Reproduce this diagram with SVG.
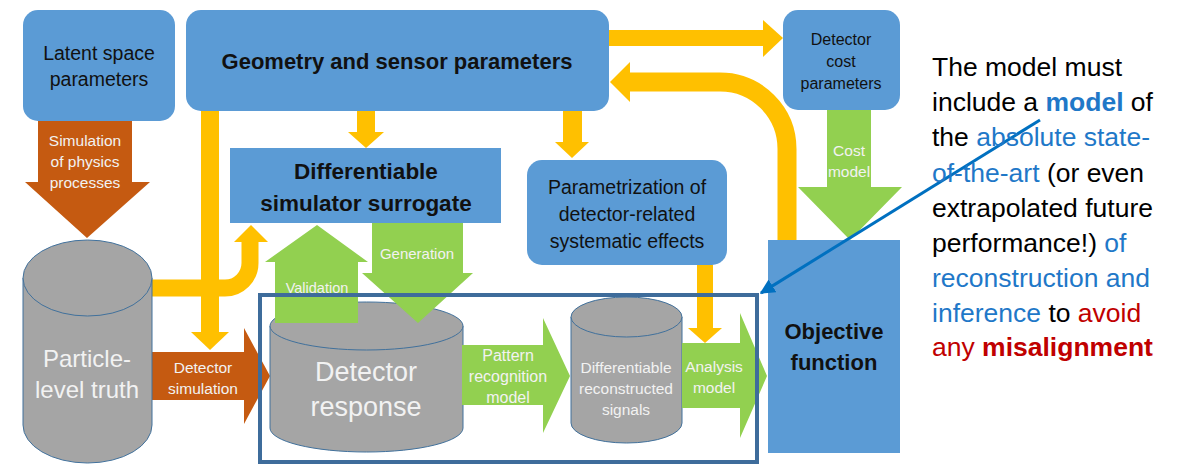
<svg xmlns="http://www.w3.org/2000/svg" width="1189" height="465" viewBox="0 0 1189 465">
<style>
.box{fill:#5B9BD5}
.cyl{fill:#A5A5A5;stroke:#41719C;stroke-width:1}
.y{fill:#FFC000}
.ys{fill:none;stroke:#FFC000}
.g{fill:#92D050}
.o{fill:#C55A11}
text{font-family:"Liberation Sans",Arial,sans-serif;text-anchor:middle}
.dk{fill:#111111}
.wt{fill:#F2F2F2}
.bd{font-weight:bold}
.rt{text-anchor:start;font-size:26.5px;fill:#000}
.bl{fill:#1F78C8}
.rd{fill:#C00000}
</style>
<defs>
<marker id="ah" viewBox="0 0 10 10" refX="9" refY="5" markerWidth="5" markerHeight="5" orient="auto" markerUnits="strokeWidth">
<path d="M0,0 L10,5 L0,10 z" fill="#0070C0"/>
</marker>
</defs>

<g id="connectors">
<path class="ys" stroke-width="17" d="M150,288 H225 A25,25 0 0 0 250,263 V241"/>
<polygon class="y" points="234,242 268,242 251,225"/>
<rect class="y" x="201" y="111" width="18" height="222"/>
<polygon class="y" points="191,332 229,332 210,350"/>
<rect class="y" x="357" y="111" width="18" height="22"/>
<polygon class="y" points="348,132 384,132 366,148"/>
<rect class="y" x="563" y="111" width="19" height="32"/>
<polygon class="y" points="555,142 589,142 572,158"/>
<rect class="y" x="697" y="265" width="16" height="64"/>
<polygon class="y" points="688,328 722,328 705,343"/>
<rect class="y" x="609" y="30" width="155" height="16"/>
<polygon class="y" points="763,20 763,57 783,38"/>
<path class="ys" stroke-width="19" d="M787,241 V149 A67,67 0 0 0 720,82 H629"/>
<polygon class="y" points="630,62 630,102 610,82"/>

<g id="e-physics">
<polygon class="o" points="38,121 132,121 132,182 150,182 87,238 25,182 38,182"/>
<text class="wt" font-size="15.5" x="85" y="146">Simulation</text>
<text class="wt" font-size="15.5" x="85" y="167">of physics</text>
<text class="wt" font-size="15.5" x="85" y="188">processes</text>
</g>
<g id="e-detsim">
<polygon class="o" points="152,352 244,352 244,328 270,376 244,424 244,400 152,400"/>
<text class="wt" font-size="15.5" x="203" y="373">Detector</text>
<text class="wt" font-size="15.5" x="203" y="394">simulation</text>
</g>
</g>

<g id="n-latent">
<rect class="box" x="23" y="10" width="152" height="111" rx="15"/>
<text class="dk" font-size="19.5" x="99" y="60">Latent space</text>
<text class="dk" font-size="19.5" x="99" y="86">parameters</text>
</g>

<g id="n-geometry">
<rect class="box" x="186" y="10" width="423" height="101" rx="15"/>
<text class="dk bd" font-size="22" x="397" y="69">Geometry and sensor parameters</text>
</g>

<g id="n-cost">
<rect class="box" x="783" y="10" width="117" height="100" rx="15"/>
<text class="dk" font-size="16" x="841" y="45">Detector</text>
<text class="dk" font-size="16" x="841" y="67">cost</text>
<text class="dk" font-size="16" x="841" y="89">parameters</text>
</g>

<g id="n-surrogate">
<rect class="box" x="230" y="148" width="271" height="75"/>
<text class="dk bd" font-size="22.5" x="366" y="179">Differentiable</text>
<text class="dk bd" font-size="22.5" x="366" y="211">simulator surrogate</text>
</g>

<g id="n-param">
<rect class="box" x="527" y="160" width="200" height="105" rx="15"/>
<text class="dk" font-size="19.5" x="627" y="194">Parametrization of</text>
<text class="dk" font-size="19.5" x="627" y="221">detector-related</text>
<text class="dk" font-size="19.5" x="627" y="248">systematic effects</text>
</g>

<g id="n-truth">
<path class="cyl" d="M23,278 V425 A64.5,38 0 0 0 152,425 V278"/>
<ellipse class="cyl" cx="87.5" cy="278" rx="64.5" ry="38"/>
<text class="wt" font-size="24" x="87" y="367">Particle-</text>
<text class="wt" font-size="24" x="87" y="398">level truth</text>
</g>

<g id="n-response">
<path class="cyl" d="M270,326 V428 A96.5,24 0 0 0 463,428 V326"/>
<ellipse class="cyl" cx="366.5" cy="326" rx="96.5" ry="24"/>
<text class="wt" font-size="27" x="366" y="381">Detector</text>
<text class="wt" font-size="27" x="366" y="416">response</text>
</g>

<g id="n-signals">
<path class="cyl" d="M571,317 V423 A55.5,20 0 0 0 682,423 V317"/>
<ellipse class="cyl" cx="626.5" cy="317" rx="55.5" ry="20"/>
<text class="wt" font-size="15.5" x="626" y="373">Differentiable</text>
<text class="wt" font-size="15.5" x="626" y="394">reconstructed</text>
<text class="wt" font-size="15.5" x="626" y="415">signals</text>
</g>

<g id="green-arrows">
<g id="e-validation">
<polygon class="g" points="275,323 275,262 265,262 317,225 368,262 358,262 358,323"/>
<text class="wt" font-size="14.5" x="317" y="293">Validation</text>
</g>
<g id="e-generation">
<polygon class="g" points="372,223 463,223 463,273 473,273 418,323 362,273 372,273"/>
<text class="wt" font-size="15" x="417" y="259">Generation</text>
</g>
<g id="e-pattern">
<polygon class="g" points="462,345 543,345 543,318 570,376 543,433 543,405 462,405"/>
<text class="wt" font-size="16" x="508" y="361">Pattern</text>
<text class="wt" font-size="16" x="508" y="382">recognition</text>
<text class="wt" font-size="16" x="508" y="403">model</text>
</g>
<g id="e-analysis">
<polygon class="g" points="682,343 740,343 740,313 767,376 740,438 740,408 682,408"/>
<text class="wt" font-size="15.5" x="714" y="372">Analysis</text>
<text class="wt" font-size="15.5" x="714" y="393">model</text>
</g>
<g id="e-costmodel">
<polygon class="g" points="827,110 871,110 871,187 902,187 850,240 798,187 827,187"/>
<text class="wt" font-size="15.5" x="849" y="156">Cost</text>
<text class="wt" font-size="15.5" x="849" y="177">model</text>
</g>
</g>

<g id="n-objective">
<rect class="box" x="768" y="240" width="132" height="213"/>
<text class="dk bd" font-size="22" x="834" y="339">Objective</text>
<text class="dk bd" font-size="22" x="834" y="370">function</text>
</g>

<g id="n-frame">
<rect x="260" y="295" width="497" height="167" fill="none" stroke="#3E6C9B" stroke-width="4"/>
</g>

<g id="e-pointer">
<line x1="1040" y1="120" x2="761" y2="293" stroke="#0070C0" stroke-width="3" marker-end="url(#ah)"/>
</g>

<g id="n-note">
<text class="rt" x="932" y="76">The model must</text>
<text class="rt" x="932" y="111">include a <tspan class="bl bd">model</tspan> of</text>
<text class="rt" x="932" y="146">the <tspan class="bl">absolute state-</tspan></text>
<text class="rt" x="932" y="182"><tspan class="bl">of-the-art</tspan> (or even</text>
<text class="rt" x="932" y="217">extrapolated future</text>
<text class="rt" x="932" y="252">performance!) <tspan class="bl">of</tspan></text>
<text class="rt" x="932" y="287"><tspan class="bl">reconstruction and</tspan></text>
<text class="rt" x="932" y="322"><tspan class="bl">inference</tspan> to <tspan class="rd">avoid</tspan></text>
<text class="rt" x="932" y="356"><tspan class="rd">any </tspan><tspan class="rd bd">misalignment</tspan></text>
</g>
</svg>
